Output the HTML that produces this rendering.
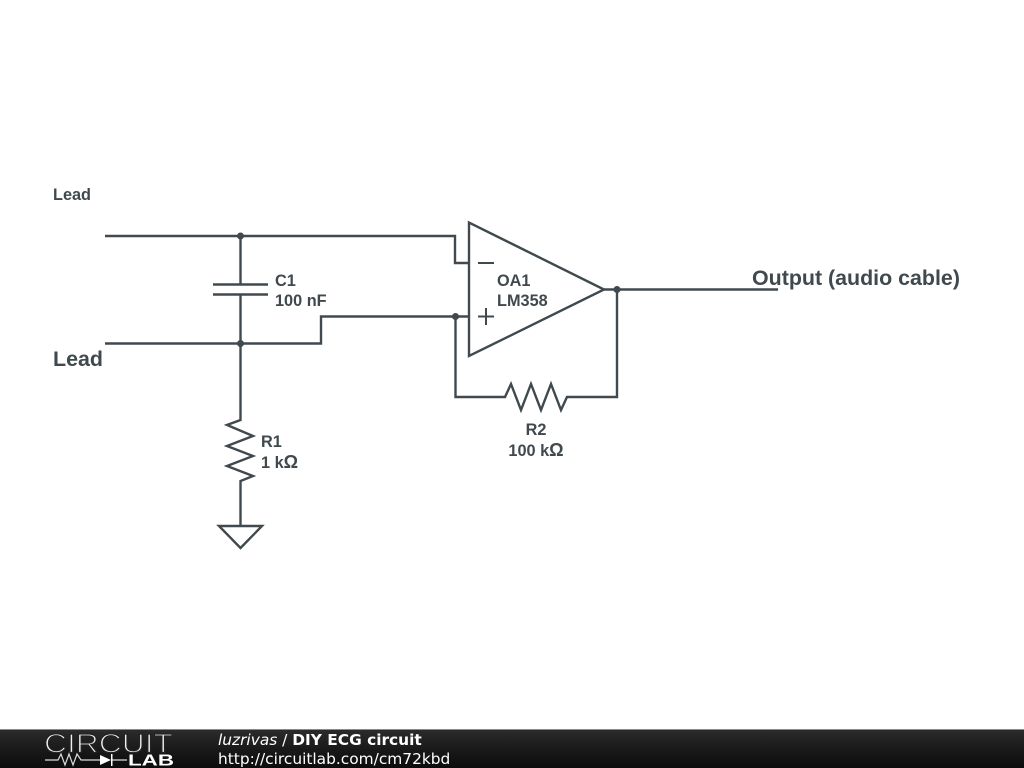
<!DOCTYPE html>
<html>
<head>
<meta charset="utf-8">
<style>
html,body{margin:0;padding:0;background:#fff;width:1024px;height:768px;overflow:hidden}
svg{display:block}
.w{fill:none;stroke:#40494e;stroke-width:2.4;stroke-linejoin:miter}
.t{font-family:"Liberation Sans",sans-serif;font-weight:bold;fill:#40494e;font-size:16.300px}
.f{font-family:"DejaVu Sans",sans-serif;fill:#fff;font-size:15.400px}
.o{font-size:18px}
</style>
</head>
<body>
<svg width="1024" height="768" viewBox="0 0 1024 768" xmlns="http://www.w3.org/2000/svg">
<defs>
<linearGradient id="g" x1="0" y1="0" x2="0" y2="1">
<stop offset="0" stop-color="#2c2c2c"/><stop offset="0.5" stop-color="#1a1a1a"/><stop offset="1" stop-color="#0c0c0c"/>
</linearGradient>
</defs>
<rect width="1024" height="768" fill="#fff"/>

<path class="w" d="M105 236H455V263H469"/>
<path class="w" d="M105 343.5H321V316.5H469"/>
<path class="w" d="M469 222.500V356L604 289.500Z"/>
<path class="w" style="stroke-width:2" d="M478 263H494M478 316.500H494M486 308V325"/>
<path class="w" d="M604 289.500H778"/>
<path class="w" d="M617 289.500V397H567L561 410L551 384L541 410L531 384L521 410L511 384L505 397H455.500V316.500"/>
<path class="w" d="M240.500 236V284M240.500 295V420L227 425L253 436L227 446L253 456L227 466L253 476L240.500 481V526"/>
<path class="w" d="M213 284.500H268M213 294.500H268"/>
<path class="w" d="M219 526H262L240.500 548Z"/>
<g fill="#40494e">
<circle cx="240.500" cy="236" r="3.500"/>
<circle cx="240.500" cy="343.500" r="3.500"/>
<circle cx="455.500" cy="316.500" r="3.500"/>
<circle cx="617" cy="289.500" r="3.500"/>
</g>

<text class="t" x="53" y="200">Lead</text>
<text class="t" x="53" y="366" style="font-size:21.400px">Lead</text>
<text class="t" x="275" y="286">C1</text>
<text class="t" x="275" y="306">100 nF</text>
<text class="t" x="497" y="286">OA1</text>
<text class="t" x="497" y="306">LM358</text>
<text class="t" x="261" y="447">R1</text>
<text class="t" x="261" y="468">1 k<tspan class="o">Ω</tspan></text>
<text class="t" x="536" y="435" text-anchor="middle">R2</text>
<text class="t" x="536" y="456" text-anchor="middle">100 k<tspan class="o">Ω</tspan></text>
<text class="t" x="752" y="285" style="font-size:21.400px">Output (audio cable)</text>

<rect x="0" y="729" width="1024" height="39" fill="url(#g)"/>
<rect x="0" y="729" width="1024" height="1" fill="#8a8a8a"/>
<text x="44" y="752.500" textLength="129" lengthAdjust="spacingAndGlyphs" style="font-family:'Liberation Sans',sans-serif;font-size:27px;fill:#f0f0f0;stroke:#222;stroke-width:1.300">CIRCUIT</text>
<path d="M45 760H58L61 754L65 765L69 754L73 765L77 754L81 760H100M112 760H127" fill="none" stroke="#ddd" stroke-width="1.200"/>
<path d="M100 755V765L111 760Z" fill="#fff"/>
<rect x="111" y="754" width="1.500" height="12" fill="#fff"/>
<text x="128" y="765.500" textLength="46" lengthAdjust="spacingAndGlyphs" style="font-family:'Liberation Sans',sans-serif;font-weight:bold;font-size:16px;fill:#fff">LAB</text>
<text class="f" x="218" y="745"><tspan font-style="italic">luzrivas</tspan> / <tspan font-weight="bold">DIY ECG circuit</tspan></text>
<text class="f" x="218" y="764">http://circuitlab.com/cm72kbd</text>
</svg>
</body>
</html>
